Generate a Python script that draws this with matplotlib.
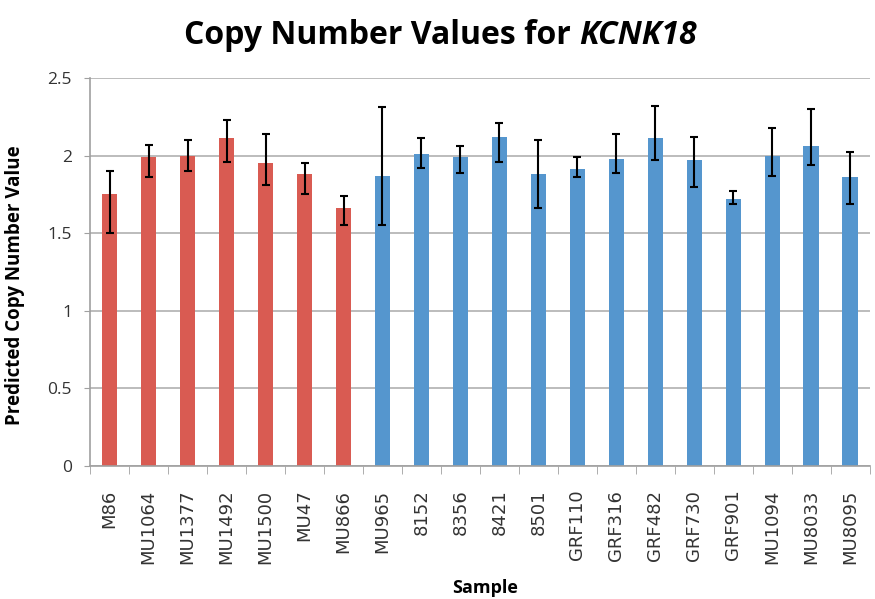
import numpy as np
import matplotlib.pyplot as plt

# samples, values and error bar ends
samples = ['M86', 'MU1064', 'MU1377', 'MU1492', 'MU1500', 'MU47', 'MU866',
           'MU965', '8152', '8356', '8421', '8501', 'GRF110', 'GRF316',
           'GRF482', 'GRF730', 'GRF901', 'MU1094', 'MU8033', 'MU8095']
values = [1.75, 1.99, 2.00, 2.11, 1.95, 1.88, 1.66,
          1.87, 2.01, 1.99, 2.12, 1.88, 1.91, 1.98,
          2.11, 1.97, 1.72, 2.00, 2.06, 1.86]
err_high = [1.90, 2.07, 2.10, 2.23, 2.14, 1.95, 1.74,
            2.31, 2.11, 2.06, 2.21, 2.10, 1.99, 2.14,
            2.32, 2.12, 1.77, 2.18, 2.30, 2.02]
err_low = [1.50, 1.86, 1.90, 1.96, 1.81, 1.75, 1.55,
           1.55, 1.92, 1.89, 1.96, 1.66, 1.86, 1.89,
           1.97, 1.80, 1.69, 1.87, 1.94, 1.69]
n_red = 7

red = '#D95B52'
blue = '#5596CE'

vals = np.array(values)
lo = vals - np.array(err_low)
hi = np.array(err_high) - vals
colors = [red] * n_red + [blue] * (len(samples) - n_red)
xs = np.arange(len(samples))

fig = plt.figure(figsize=(8.75, 5.99), dpi=100)
ax = fig.add_axes([0.103, 0.222, 0.891, 0.648])

ax.bar(xs, vals, width=0.4, color=colors, zorder=2)
ax.errorbar(xs, vals, yerr=[lo, hi], fmt='none', ecolor='black',
            elinewidth=1.5, capsize=3, capthick=1.5, zorder=3)

ax.set_xlim(-0.5, len(samples) - 0.5)
ax.set_ylim(0, 2.5)
ax.set_yticks([0, 0.5, 1, 1.5, 2, 2.5])
ax.set_yticklabels(['0', '0.5', '1', '1.5', '2', '2.5'], family='Open Sans')
ax.yaxis.grid(True, color='#B0B0B0', linewidth=1.2, zorder=0)
ax.set_axisbelow(True)

ax.set_xticks(xs)
ax.set_xticklabels(samples, rotation=90, fontsize=13, color='#333333',
                   family='DejaVu Sans')
ax.tick_params(axis='x', length=0, pad=17)
ax.set_xticks(np.arange(-0.5, len(samples)), minor=True)
ax.tick_params(axis='x', which='minor', length=6, color='#A0A0A0')
ax.tick_params(axis='y', length=4, color='#A0A0A0', labelsize=12.5,
               labelcolor='#333333', pad=9)

for s in ['top', 'right']:
    ax.spines[s].set_visible(False)
for s in ['left', 'bottom']:
    ax.spines[s].set_color('#A0A0A0')
    ax.spines[s].set_linewidth(1.2)

ax.set_ylabel('Predicted Copy Number Value', fontsize=13.5, fontweight='bold',
              family='Open Sans')
ax.yaxis.set_label_coords(-0.083, 0.466)
ax.set_xlabel('Sample', fontsize=13, fontweight='bold', family='Open Sans')
ax.xaxis.set_label_coords(0.506, -0.292)

# title in two parts: plain bold, then bold italic gene name
renderer = fig.canvas.get_renderer()
t1 = fig.text(0, 0.94, 'Copy Number Values for ', ha='left', va='center',
              fontsize=23, fontweight='bold', family='Open Sans')
t2 = fig.text(0, 0.94, 'KCNK18', ha='left', va='center', fontsize=23,
              fontweight='bold', style='italic', family='Open Sans')
w1 = t1.get_window_extent(renderer).width
w2 = t2.get_window_extent(renderer).width
x0 = (0.503 * fig.bbox.width - (w1 + w2) / 2) / fig.bbox.width
t1.set_x(x0)
t2.set_x(x0 + w1 / fig.bbox.width)

fig.savefig('out.png', dpi=100)
